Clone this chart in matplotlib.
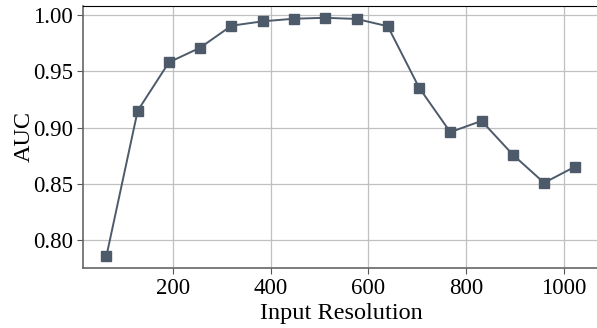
import numpy as np
import matplotlib
matplotlib.use("Agg")
from matplotlib import pyplot as plt

# AUC measured at each input resolution
resolution = [64, 128, 192, 256, 320, 384, 448, 512, 576, 640,
              704, 768, 832, 896, 960, 1024]
auc = [0.786, 0.915, 0.958, 0.971, 0.9905, 0.9944, 0.9967, 0.9975,
       0.9965, 0.990, 0.9356, 0.896, 0.906, 0.876, 0.851, 0.8655]

plt.rcParams['font.family'] = ['Liberation Serif', 'DejaVu Serif']

fig = plt.figure(figsize=(5.97, 3.28), dpi=100)
ax = fig.add_axes([0.139, 0.183, 0.864, 0.799])
ax.plot(resolution, auc, color='#4d5a6a', lw=1.4, marker='s', ms=6.5,
        zorder=3)
ax.grid(True, color='#c0c0c0', lw=0.9)
ax.set_axisbelow(True)
ax.set_xticks([200, 400, 600, 800, 1000])
ax.set_yticks([0.80, 0.85, 0.90, 0.95, 1.00])
ax.set_yticklabels(['0.80', '0.85', '0.90', '0.95', '1.00'])
ax.tick_params(labelsize=16.5, color='#555555', length=4, pad=3)
for side in ['left', 'bottom']:
    ax.spines[side].set_color('#666666')
    ax.spines[side].set_linewidth(1.2)
ax.spines['top'].set_color('black')
ax.spines['right'].set_visible(False)
ax.set_xlabel('Input Resolution', fontsize=17.5, labelpad=3)
ax.set_ylabel('AUC', fontsize=17.5, labelpad=-1)
plt.savefig('out.png', dpi=100)
